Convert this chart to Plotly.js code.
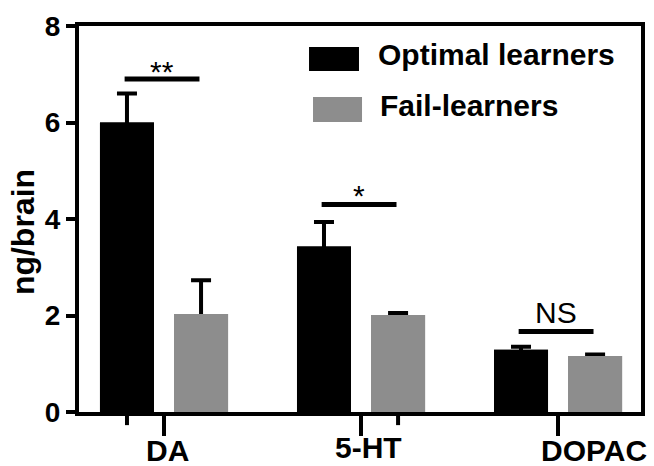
<!DOCTYPE html>
<html>
<head>
<meta charset="utf-8">
<script src="https://cdn.plot.ly/plotly-3.0.1.min.js"></script>
<style>html,body{margin:0;padding:0;background:#fff;}#chart{width:654px;height:466px;}</style>
</head>
<body>
<div id="chart"></div>
<script>
// ---- data ----
var categories = ['DA', '5-HT', 'DOPAC'];
var seriesNames = ['Optimal learners', 'Fail-learners'];
var optimal = [6.0, 3.43, 1.29];
var optimalErr = [0.6, 0.51, 0.06];
var fail = [2.03, 2.01, 1.16];
var failErr = [0.7, 0.04, 0.03];
var yTicks = [0, 2, 4, 6, 8];
var sigLabels = ['**', '*', 'NS'];
var sigHeights = [6.9, 4.3, 1.67];

// ---- styles ----
var FONT = 'Liberation Sans, Arial, Helvetica, sans-serif';
var BLACK = '#000000';
var GRAY = '#8d8d8d';
var HIDE_DOWN = 0.3; // lower part of the error bar, hidden inside the bar

function barTrace(name, y, err, color, group, withErr) {
  var t = {
    type: 'bar', name: name, x: categories, y: y, offsetgroup: group,
    marker: {color: color, line: {width: 0}},
    showlegend: false, hoverinfo: 'none'
  };
  if (withErr) {
    t.error_y = {type: 'data', array: err, arrayminus: y.map(function () { return HIDE_DOWN; }),
                 symmetric: false, visible: true, color: BLACK, thickness: 4, width: 10};
  }
  return t;
}

var traces = [
  barTrace(seriesNames[0], optimal, optimalErr, BLACK, 'opt', true),
  barTrace(seriesNames[1], fail, failErr, GRAY, 'fail', true),
  barTrace(seriesNames[0], optimal, optimalErr, BLACK, 'opt', false),
  barTrace(seriesNames[1], fail, failErr, GRAY, 'fail', false)
];

var shapes = [];
var annotations = [];

// significance bars
var sigX0 = -0.2, sigX1 = 0.18;
var sigShift = [-11, -9, 0];
for (var i = 0; i < categories.length; i++) {
  shapes.push({type: 'line', xref: 'x', yref: 'y', x0: i + sigX0, x1: i + sigX1,
               y0: sigHeights[i], y1: sigHeights[i], line: {color: BLACK, width: 5}});
  annotations.push({xref: 'x', yref: 'y', x: i + (sigX0 + sigX1) / 2, y: sigHeights[i],
                    text: sigLabels[i], showarrow: false, yanchor: 'bottom', xanchor: 'center',
                    yshift: sigShift[i],
                    font: {family: FONT, size: 30, color: BLACK, weight: 'normal'}});
}

// category labels (custom positions as in the reference)
var labShiftX = [3, 7, 36];
var labShiftY = [-38, -35, -38];
for (var j = 0; j < categories.length; j++) {
  annotations.push({xref: 'x', yref: 'paper', x: j, y: 0, text: categories[j], showarrow: false,
                    xanchor: 'center', yanchor: 'middle', xshift: labShiftX[j], yshift: labShiftY[j],
                    font: {family: FONT, size: 30, color: BLACK, weight: 'bold'}});
}

// extra short ticks under some bars
var offset = 0.188;
shapes.push({type: 'line', xref: 'x', yref: 'paper', x0: 0 - offset, x1: 0 - offset, y0: -0.005, y1: -0.034,
             line: {color: BLACK, width: 4}});
shapes.push({type: 'line', xref: 'x', yref: 'paper', x0: 1 + offset, x1: 1 + offset, y0: -0.005, y1: -0.034,
             line: {color: BLACK, width: 4}});

// custom legend (paper coordinates)
var legColors = [BLACK, GRAY];
var legBoxes = [[0.4093, 0.4982, 0.8834, 0.9456], [0.4164, 0.5036, 0.7513, 0.8161]];
var legText = [[0.5285, 0.925], [0.5320, 0.793]];
for (var k = 0; k < seriesNames.length; k++) {
  shapes.push({type: 'rect', xref: 'paper', yref: 'paper', x0: legBoxes[k][0], x1: legBoxes[k][1],
               y0: legBoxes[k][2], y1: legBoxes[k][3], fillcolor: legColors[k], line: {width: 0}});
  annotations.push({xref: 'paper', yref: 'paper', x: legText[k][0], y: legText[k][1], text: seriesNames[k],
                    showarrow: false, xanchor: 'left', yanchor: 'middle',
                    font: {family: FONT, size: 30, color: BLACK, weight: 'bold'}});
}

// y title
annotations.push({xref: 'paper', yref: 'paper', x: 0, y: 0.466, xshift: -56, text: 'ng/brain',
                  textangle: -90, showarrow: false, xanchor: 'center', yanchor: 'middle',
                  font: {family: FONT, size: 32, color: BLACK, weight: 'bold'}});

var layout = {
  width: 654, height: 466,
  margin: {l: 79, r: 13, t: 26, b: 54, pad: 0},
  paper_bgcolor: '#ffffff', plot_bgcolor: '#ffffff',
  barmode: 'group', bargap: 0.248, bargroupgap: 0.271,
  font: {family: FONT, color: BLACK},
  xaxis: {
    type: 'category', range: [-0.4315, 2.421], fixedrange: true,
    showline: true, linecolor: BLACK, linewidth: 4, mirror: true,
    showgrid: false, zeroline: false,
    ticks: 'outside', ticklen: 20, tickwidth: 4, tickcolor: BLACK,
    showticklabels: false
  },
  yaxis: {
    range: [0, 8], fixedrange: true,
    tickvals: yTicks, ticktext: yTicks.map(String),
    showline: true, linecolor: BLACK, linewidth: 4, mirror: true,
    showgrid: false, zeroline: false,
    ticks: 'outside', ticklen: 9, tickwidth: 4, tickcolor: BLACK,
    tickfont: {family: FONT, size: 28, color: BLACK, weight: 'bold'}
  },
  shapes: shapes,
  annotations: annotations
};

Plotly.newPlot('chart', traces, layout, {staticPlot: true, displayModeBar: false});
</script>
</body>
</html>
